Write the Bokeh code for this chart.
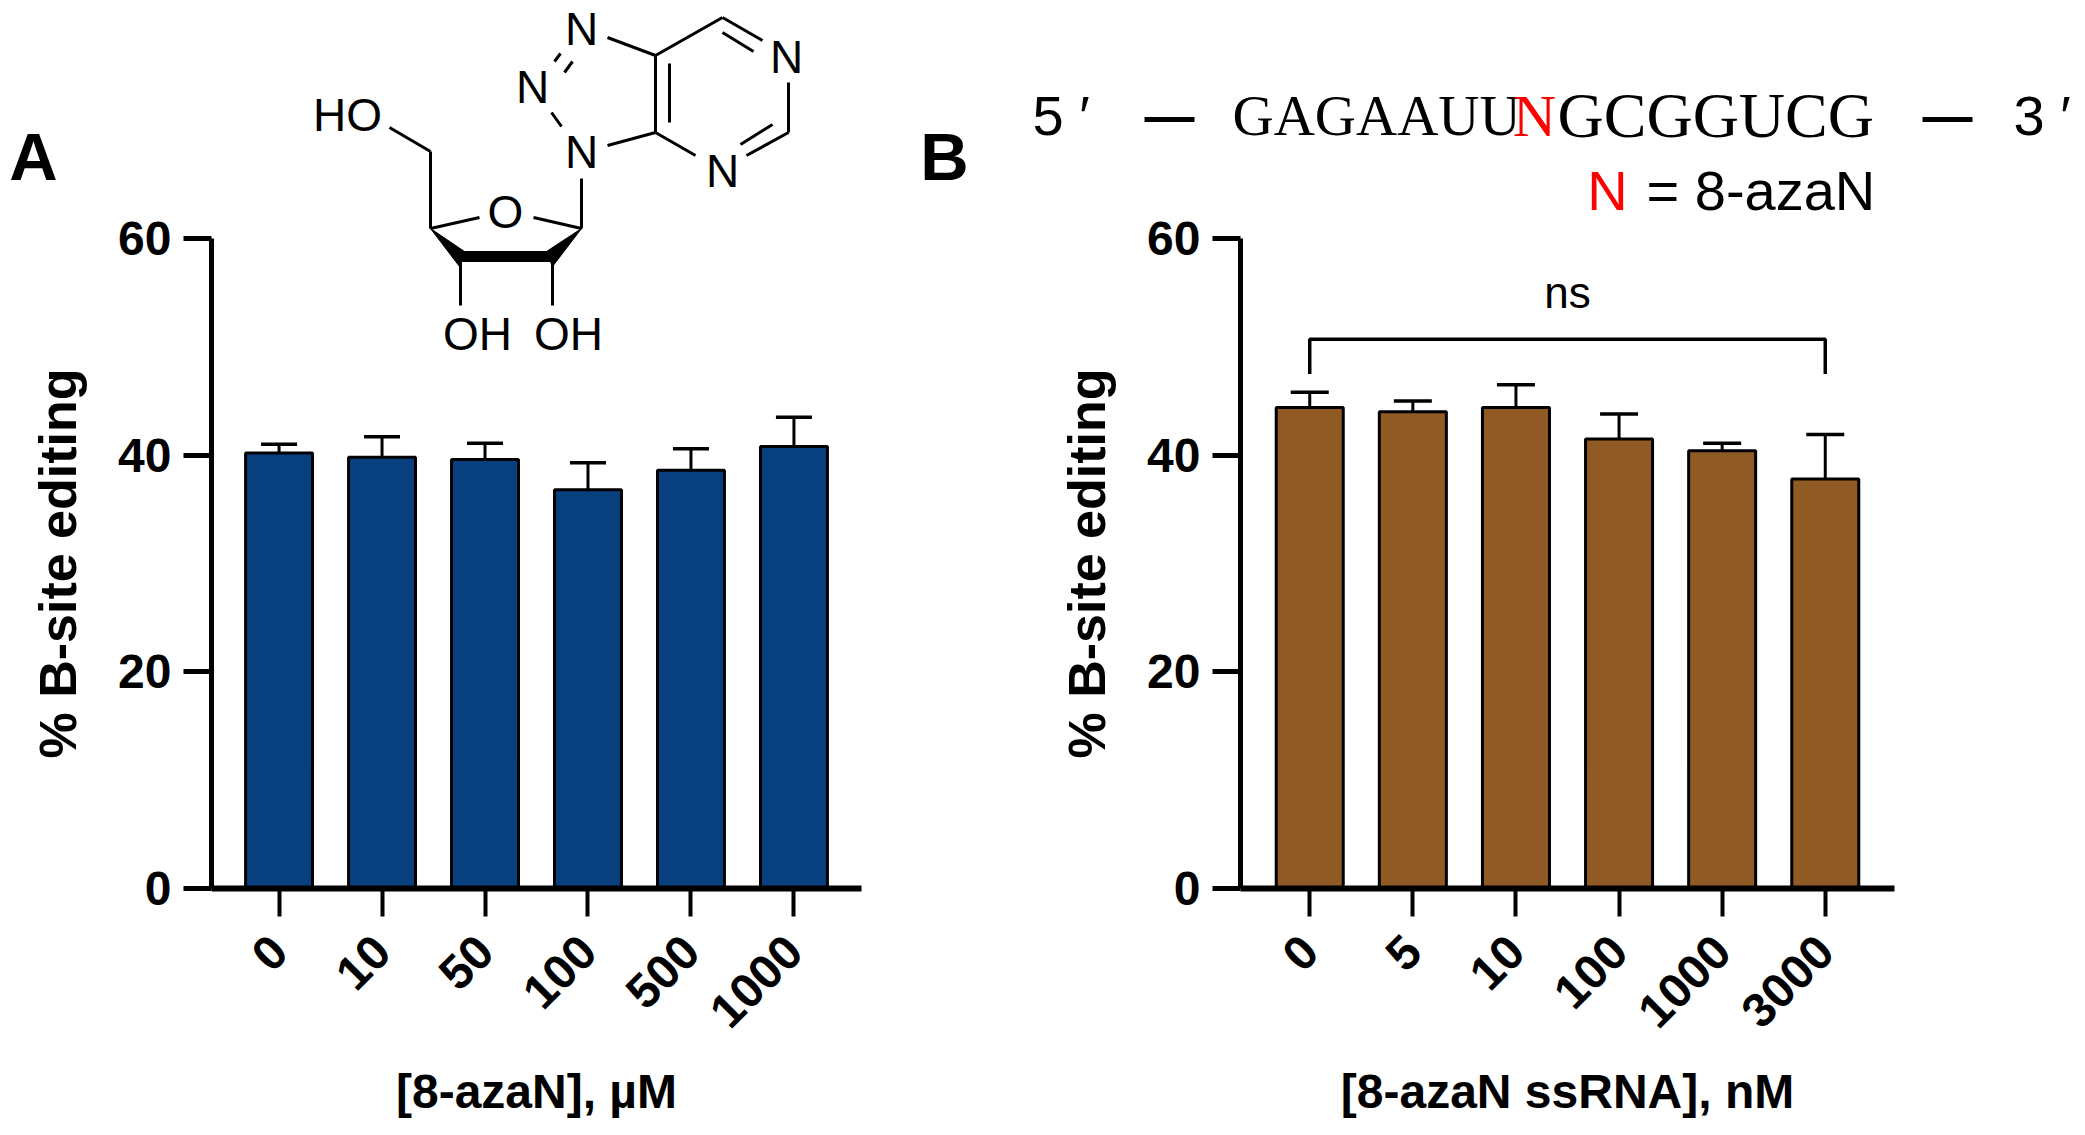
from math import pi
from bokeh.plotting import figure
from bokeh.layouts import row, column
from bokeh.models import (ColumnDataSource, FixedTicker, Label, Range1d,
                          TeeHead, Whisker)
from bokeh.embed import file_html
from bokeh.resources import INLINE

# ---- data ----
doses_a = ["0", "10", "50", "100", "500", "1000"]
editing_a = [40.2, 39.8, 39.6, 36.8, 38.6, 40.8]
upper_a = [41.0, 41.7, 41.1, 39.3, 40.6, 43.5]

doses_b = ["0", "5", "10", "100", "1000", "3000"]
editing_b = [44.4, 44.0, 44.4, 41.5, 40.4, 37.8]
upper_b = [45.8, 45.0, 46.5, 43.8, 41.1, 41.9]

y_ticks = [0, 20, 40, 60]
y_title = "% B-site editing"
x_title_a = "[8-azaN], µM"
x_title_b = "[8-azaN ssRNA], nM"
bracket_x = [0, 0, 5, 5]
bracket_y = [47.5, 50.7, 50.7, 47.5]
BLUE = "#08407F"
BROWN = "#905A24"
SANS = "Liberation Sans"
SERIF = "Liberation Serif"

# ---- drawing of the nucleoside (reference pixel coordinates) ----
bonds_x = [[607, 655], [655, 722], [722, 762], [722, 753], [788, 788], [788, 746], [772, 740],
           [695, 655], [655, 655], [669, 669], [655, 607], [561, 551], [554, 560], [564, 572],
           [581, 581], [581, 533], [479, 430], [430, 430], [430, 389], [460, 460], [552, 552]]
bonds_y = [[37, 55], [55, 17], [17, 40], [32, 51], [82, 132], [132, 155], [124, 144],
           [155, 132], [55, 132], [63, 122], [132, 145], [126, 112], [61, 53], [72, 61],
           [178, 228], [228, 217], [217, 228], [228, 151], [151, 127], [257, 305], [257, 305]]
wedges_x = [[430, 464, 459], [581, 546, 552], [460, 552, 552, 460]]
wedges_y = [[228, 251, 266], [228, 251, 266], [251, 251, 261, 261]]
atoms = [("N", 581, 28), ("N", 532, 86), ("N", 581, 151), ("N", 786, 56), ("N", 722, 170),
         ("O", 505, 211), ("HO", 347, 114), ("OH", 477, 333), ("OH", 568, 333)]


def panel(doses, editing, upper, color, x_title, width, left, right, bottom, pad, cap, ylab_standoff):
    xs = list(range(len(doses)))
    src = ColumnDataSource(dict(x=xs, top=editing, upper=upper, base=editing))
    p = figure(width=width, height=1135, output_backend="svg", toolbar_location=None,
               x_range=Range1d(-pad, len(doses) - 1 + pad),
               y_range=Range1d(0, 60), min_border_left=left, min_border_right=right,
               min_border_top=238, min_border_bottom=bottom, outline_line_color=None,
               background_fill_color="white", border_fill_color="white")
    p.grid.visible = False
    p.vbar(x="x", top="top", bottom=0, width=0.65, source=src, fill_color=color,
           line_color="black", line_width=3)
    p.add_layout(Whisker(base="x", upper="upper", lower="base", source=src, line_color="black",
                         line_width=3, lower_head=None,
                         upper_head=TeeHead(size=cap, line_color="black", line_width=3.5)))
    ya = p.yaxis[0]
    ya.ticker = FixedTicker(ticks=y_ticks)
    ya.axis_line_width = 5
    ya.major_tick_line_width = 5
    ya.major_tick_out = 28
    ya.major_tick_in = 0
    ya.minor_tick_line_color = None
    ya.major_label_text_font = SANS
    ya.major_label_text_font_style = "bold"
    ya.major_label_text_font_size = "48px"
    ya.major_label_text_color = "black"
    ya.major_label_standoff = 12
    ya.axis_label = y_title
    ya.axis_label_text_font = SANS
    ya.axis_label_text_font_style = "bold"
    ya.axis_label_text_font_size = "52px"
    ya.axis_label_text_color = "black"
    ya.axis_label_standoff = ylab_standoff
    xa = p.xaxis[0]
    xa.ticker = FixedTicker(ticks=xs)
    xa.major_label_overrides = dict(zip(xs, doses))
    xa.axis_line_width = 6
    xa.major_tick_line_width = 4
    xa.major_tick_out = 28
    xa.major_tick_in = 0
    xa.minor_tick_line_color = None
    xa.major_label_orientation = pi / 4
    xa.major_label_text_font = SANS
    xa.major_label_text_font_style = "bold"
    xa.major_label_text_font_size = "48px"
    xa.major_label_text_color = "black"
    xa.major_label_standoff = 27
    xa.axis_label = x_title
    xa.axis_label_text_font = SANS
    xa.axis_label_text_font_style = "bold"
    xa.axis_label_text_font_size = "48px"
    xa.axis_label_text_color = "black"
    xa.axis_label_standoff = 20
    return p


a = panel(doses_a, editing_a, upper_a, BLUE, x_title_a, 1000, 211, 139, 247, 0.656, 36, 28)
b = panel(doses_b, editing_b, upper_b, BROWN, x_title_b, 1085, 240, 191, 243, 0.6715, 38, 28)
b.line(bracket_x, bracket_y, line_color="black", line_width=3.5)
b.add_layout(Label(x=2.5, y=55, text="ns", text_font=SANS, text_font_size="44px",
                   text_color="black", text_align="center", text_baseline="middle"))

# transparent layer over both panels, in reference pixels, for what lies outside the plot areas
top = figure(width=2085, height=1135, output_backend="svg", toolbar_location=None,
             x_range=Range1d(0, 2085), y_range=Range1d(1135, 0), x_axis_location=None,
             y_axis_location=None, min_border=0, outline_line_color=None,
             background_fill_alpha=0, border_fill_alpha=0, margin=(-1135, 0, 0, 0))
top.grid.visible = False


def note(text, x, y, size, font=SANS, style="normal", color="black", align="center"):
    top.add_layout(Label(x=x, y=y, text=text, text_font=font, text_font_style=style,
                         text_font_size=f"{size}px", text_color=color, text_align=align,
                         text_baseline="middle"))


top.multi_line(bonds_x, bonds_y, line_color="black", line_width=3)
top.patches(wedges_x, wedges_y, fill_color="black", line_color="black")
for t, x, y in atoms:
    note(t, x, y, 46)
note("A", 33, 156, 67, style="bold")
note("B", 944, 156, 67, style="bold")
note("5 ′", 1032, 115, 56, align="left")
note("—", 1169, 115, 50, style="bold")
note("GAGAAUU", 1232, 115, 57, font=SERIF, align="left")
note("N", 1534, 115, 60, font=SERIF, color="#FF0000")
note("GCGGUCG", 1557, 115, 64, font=SERIF, align="left")
note("—", 1947, 115, 50, style="bold")
note("3 ′", 2013, 115, 56, align="left")
note("N", 1607, 190, 56, color="#FF0000")
note("= 8-azaN", 1646, 190, 56, align="left")

open("out.html", "w").write(file_html(column(row(a, b), top), INLINE))
